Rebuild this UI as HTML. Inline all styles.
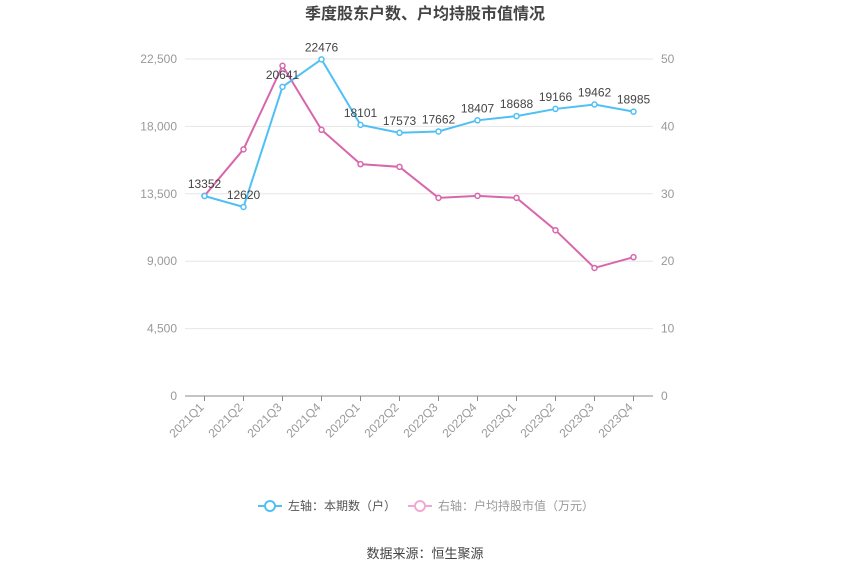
<!DOCTYPE html>
<html><head><meta charset="utf-8"><style>
body{margin:0;background:#fff;width:850px;height:575px;overflow:hidden;font-family:"Liberation Sans","Noto Sans CJK SC",sans-serif}
</style></head><body>
<svg width="850" height="575" xmlns="http://www.w3.org/2000/svg" font-family="Liberation Sans, Noto Sans CJK SC, sans-serif">
<text x="425" y="19" text-anchor="middle" font-size="16" font-weight="bold" fill="#444">季度股东户数、户均持股市值情况</text>
<g id="grid"></g><g id="axes"></g><g id="series"></g>
<g>
<g><line x1="258" y1="506" x2="282" y2="506" stroke="#4fc0f5" stroke-width="2"/><circle cx="270" cy="506" r="5" fill="#fff" stroke="#4fc0f5" stroke-width="2"/><text x="288" y="510" font-size="12" fill="#555">左轴：本期数（户）</text></g>
<g><line x1="408" y1="506" x2="432" y2="506" stroke="#f2a8d2" stroke-width="2"/><circle cx="420" cy="506" r="5" fill="#fff" stroke="#f2a8d2" stroke-width="2"/><text x="438" y="510" font-size="12" fill="#999">右轴：户均持股市值（万元）</text></g>
</g>
<text x="425" y="558" text-anchor="middle" font-size="13" fill="#444">数据来源：恒生聚源</text>
</svg>
<script>
const categories=["2021Q1","2021Q2","2021Q3","2021Q4","2022Q1","2022Q2","2022Q3","2022Q4","2023Q1","2023Q2","2023Q3","2023Q4"];
const holders=[13352,12620,20641,22476,18101,17573,17662,18407,18688,19166,19462,18985];
const avgValue=[29.7,36.6,49.0,39.5,34.4,34.0,29.4,29.7,29.4,24.6,19.0,20.6];
const leftTicks=[0,4500,9000,13500,18000,22500];
const rightTicks=[0,10,20,30,40,50];
const NS="http://www.w3.org/2000/svg";
const X0=185,X1=653,Y0=396,Y1=59;
const bw=(X1-X0)/categories.length;
const xs=i=>X0+bw*(i+0.5);
const yl=v=>Y0-(v/22500)*(Y0-Y1);
const yr=v=>Y0-(v/50)*(Y0-Y1);
function mk(t,a,p){const e=document.createElementNS(NS,t);for(const k in a)e.setAttribute(k,a[k]);p.appendChild(e);return e;}
const grid=document.getElementById('grid'),axes=document.getElementById('axes'),ser=document.getElementById('series');
leftTicks.forEach((v,i)=>{
 if(v>0){const l=mk('line',{x1:X0,x2:X1,y1:yl(v),y2:yl(v),stroke:'#e6e6e6'},grid);
 
 }
 const t=mk('text',{x:X0-8,y:yl(v)+4,'text-anchor':'end','font-size':12,fill:'#999'},axes);t.textContent=v.toLocaleString('en-US');
 
 
});
rightTicks.forEach(v=>{
 const t=mk('text',{x:X1+8,y:yr(v)+4,'font-size':12,fill:'#999'},axes);t.textContent=v;
 
 
});
const ax=mk('line',{x1:X0,x2:X1,y1:Y0,y2:Y0,stroke:'#888'},axes);


categories.forEach((c,i)=>{
 mk('line',{x1:xs(i),x2:xs(i),y1:Y0,y2:Y0+5,stroke:'#888'},axes);
 const t=mk('text',{x:xs(i),y:Y0+12,'text-anchor':'end','font-size':12,fill:'#999',transform:`rotate(-45 ${xs(i)} ${Y0+12})`},axes);t.textContent=c;
 
 
});
function line(vals,yf,color,name,labels){
 const p=mk('polyline',{points:vals.map((v,i)=>xs(i)+','+yf(v)).join(' '),fill:'none',stroke:color,'stroke-width':2},ser);
 
 
 vals.forEach((v,i)=>{
  const c=mk('circle',{cx:xs(i),cy:yf(v),r:2.5,fill:'#fff',stroke:color,'stroke-width':1.5},ser);
  
  
  if(labels){const t=mk('text',{x:xs(i),y:yf(v)-8,'text-anchor':'middle','font-size':12,fill:'#444'},ser);t.textContent=v;
  
  }
 });
}
line(avgValue,yr,'#d966ac','avg-value',false);
line(holders,yl,'#4fc0f5','holders',true);
</script>
</body></html>
